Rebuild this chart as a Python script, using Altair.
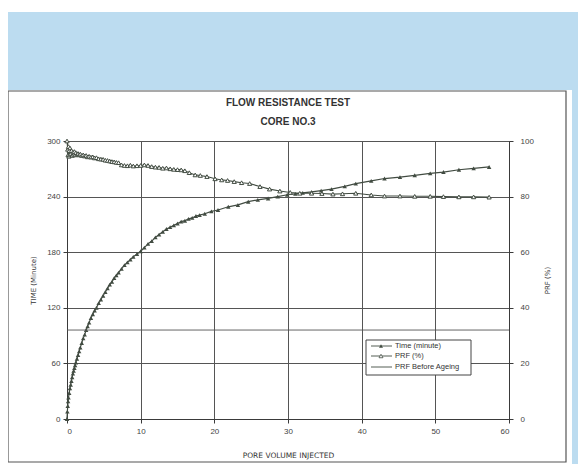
import altair as alt
import pandas as pd

# ---------------- data ----------------
pv_time = [0, 0.05, 0.1, 0.15, 0.2, 0.3, 0.4, 0.5, 0.6, 0.7, 0.8, 0.9, 1.0, 1.1, 1.2,
           1.35, 1.5, 1.65, 1.8, 2.0, 2.2, 2.4, 2.6, 2.8, 3.0, 3.25, 3.5, 3.75, 4.0,
           4.3, 4.6, 4.9, 5.2, 5.5, 5.8, 6.1, 6.4, 6.7, 7.0, 7.4, 7.8, 8.2, 8.6, 9.0,
           9.5, 10.0, 10.5, 11.0, 11.5, 12.0, 12.5, 13.0, 13.5, 14.0, 14.5, 15.0, 15.5,
           16.0, 16.5, 17.0, 17.5, 18.0, 18.7, 19.6, 20.5, 21.9, 23.2, 24.6, 25.9, 27.3,
           28.6, 29.9, 31.0, 32.0, 33.2, 34.5, 35.9, 37.7, 39.2, 41.3, 43.1, 45.2, 47.2,
           49.3, 51.1, 53.2, 55.2, 57.3]
time_min = [0, 8, 14, 19, 23, 28, 33, 37, 41, 45, 49, 52, 55, 58, 61,
            65, 69, 73, 77, 82, 87, 91, 96, 100, 104, 109, 113, 117, 120,
            125, 129, 133, 137, 141, 145, 148, 152, 155, 158, 162, 166, 169, 172, 175,
            178, 181, 185, 189, 192, 196, 199, 202, 205, 207, 209, 211, 213,
            214, 216, 217, 219, 220, 221.5, 224, 225.5, 229, 231, 234.5, 236.5, 238,
            240, 242, 243, 244, 245, 246.5, 248, 251, 254, 257, 259.5, 261, 263,
            265, 266.5, 269, 270.5, 272]

pv_prf = [0, 0.1, 0.15, 0.2, 0.25, 0.3, 0.35, 0.4, 0.5, 0.6, 0.7, 0.8, 0.9, 1.0, 1.1,
          1.2, 1.35, 1.5, 1.65, 1.8, 2.0, 2.2, 2.4, 2.6, 2.8, 3.0, 3.25, 3.5, 3.75, 4.0,
          4.3, 4.6, 4.9, 5.2, 5.5, 5.8, 6.1, 6.4, 6.7, 7.0, 7.4, 7.8, 8.2, 8.6, 9.0, 9.5,
          10.0, 10.5, 11.0, 11.5, 12.0, 12.5, 13.0, 13.5, 14.0, 14.5, 15.0, 15.5, 16.0,
          16.6, 17.4, 18.1, 19.0, 20.1, 21.0, 21.8, 22.7, 23.7, 24.8, 26.2, 27.5, 28.9,
          30.3, 31.6, 33.2, 34.6, 36.1, 37.4, 39.2, 41.3, 43.1, 45.2, 47.2, 49.3, 51.1,
          53.2, 55.2, 57.3]
prf_pct = [100, 97, 95, 98, 94.5, 96.5, 95, 97.5, 95.5, 96.5, 94.8, 96, 95.2, 96.2, 95,
           95.8, 95.2, 95.5, 95, 95.3, 94.8, 95, 94.6, 94.8, 94.3, 94.5, 94.2, 94.3, 93.9, 94,
           93.6, 93.5, 93.4, 93.1, 93, 92.8, 92.6, 92.5, 92.3, 92.2, 91.4, 91.2, 91.1, 91.3, 91, 91.1,
           91.2, 91.4, 91.2, 90.8, 90.6, 90.5, 90.2, 90.3, 90.0, 89.8, 89.7, 89.6, 89.3,
           88.6, 87.8, 87.6, 87.2, 86.4, 86, 85.8, 85.4, 85, 84.7, 83.6, 82.7, 82,
           81.5, 81.2, 81.2, 81.1, 80.9, 81, 81.2, 80.6, 80.2, 80.2, 80.1, 80.1, 80,
           79.9, 79.9, 79.8]

prf_before_ageing = [32]

x_ticks = [0, 10, 20, 30, 40, 50, 60]
left_ticks = [0, 60, 120, 180, 240, 300]
right_ticks = [0, 20, 40, 60, 80, 100]
legend_labels = ["Time (minute)", "PRF (%)", "PRF Before Ageing"]
title_lines = ["FLOW RESISTANCE TEST", "CORE NO.3"]

# ---------------- styling ----------------
W, H = 442, 278
SERIES = "#424c42"
AXIS = "#3a3a3a"
BLUE = "#bcdcf0"
FONT = "Liberation Sans"

time_df = pd.DataFrame({"pv": pv_time, "time": time_min})
prf_df = pd.DataFrame({"pv": pv_prf, "prf": prf_pct})
before_df = pd.DataFrame({"prf": prf_before_ageing})
one = pd.DataFrame({"k": [0]})

x_enc = alt.X(
    "pv:Q",
    scale=alt.Scale(domain=[0, 60], nice=False),
    axis=alt.Axis(values=x_ticks, title="PORE VOLUME INJECTED", grid=True,
                  titlePadding=16, labelPadding=4, tickSize=4, titleFontSize=7.5),
)

# decorations (page background band, frame)
blue_top = alt.Chart(one).mark_rect(fill=BLUE, stroke=None).encode(
    x=alt.value(-59), x2=alt.value(511), y=alt.value(-129), y2=alt.value(-51))
blue_right = alt.Chart(one).mark_rect(fill=BLUE, stroke=None).encode(
    x=alt.value(505), x2=alt.value(511), y=alt.value(-51), y2=alt.value(323))
frame = alt.Chart(one).mark_rect(fillOpacity=0, stroke="#555", strokeWidth=1.2).encode(
    x=alt.value(-59), x2=alt.value(499), y=alt.value(-50), y2=alt.value(321))

# time series (left axis)
time_y = alt.Y(
    "time:Q",
    scale=alt.Scale(domain=[0, 300], nice=False),
    axis=alt.Axis(orient="left", values=left_ticks, title="TIME (Minute)", grid=True,
                  titlePadding=10, labelPadding=3, tickSize=4),
)
time_base = alt.Chart(time_df).encode(x=x_enc, y=time_y)
time_layer = alt.layer(
    time_base.mark_line(color=SERIES, strokeWidth=1.2),
    time_base.mark_point(shape="triangle-up", filled=True, color=SERIES, size=20, opacity=1),
)

# PRF series (right axis)
prf_y = alt.Y(
    "prf:Q",
    scale=alt.Scale(domain=[0, 100], nice=False),
    axis=alt.Axis(orient="right", values=right_ticks, title="PRF (%)", grid=False,
                  titleAngle=270, titlePadding=17, labelPadding=7, tickSize=4),
)
prf_base = alt.Chart(prf_df).encode(x=x_enc, y=prf_y)
prf_layer = alt.layer(
    alt.Chart(before_df).mark_rule(color="#555", strokeWidth=0.9).encode(y=prf_y),
    prf_base.mark_line(color=SERIES, strokeWidth=1.1),
    prf_base.mark_point(shape="triangle-up", filled=True, fill="white", stroke=SERIES,
                        strokeWidth=1, size=18, opacity=1),
)

# legend box (drawn by hand like the original)
leg_box = alt.Chart(one).mark_rect(fill="white", stroke="#444", strokeWidth=1).encode(
    x=alt.value(299), x2=alt.value(404), y=alt.value(199), y2=alt.value(234))
leg_layers = [leg_box]
leg_y = [205, 215, 226]
for i, lab in enumerate(legend_labels):
    leg_layers.append(alt.Chart(one).mark_rule(color=SERIES, strokeWidth=0.9).encode(
        x=alt.value(304), x2=alt.value(325), y=alt.value(leg_y[i])))
    if i == 0:
        leg_layers.append(alt.Chart(one).mark_point(
            shape="triangle-up", filled=True, color=SERIES, size=16, opacity=1).encode(
            x=alt.value(314), y=alt.value(leg_y[i])))
    elif i == 1:
        leg_layers.append(alt.Chart(one).mark_point(
            shape="triangle-up", filled=True, fill="white", stroke=SERIES, strokeWidth=0.8,
            size=16, opacity=1).encode(x=alt.value(314), y=alt.value(leg_y[i])))
    leg_layers.append(alt.Chart(one).mark_text(
        text=lab, align="left", baseline="middle", font=FONT, fontSize=7.5, color="#333").encode(
        x=alt.value(328), y=alt.value(leg_y[i])))

chart = alt.layer(
    blue_top, blue_right, frame, time_layer, prf_layer, *leg_layers
).resolve_scale(y="independent").properties(
    width=W,
    height=H,
    padding={"left": 59, "top": 133, "right": 69, "bottom": 45},
    autosize=alt.AutoSizeParams(type="none"),
    title=alt.TitleParams(text=title_lines, font=FONT, fontSize=10, fontWeight="bold",
                          color="#333", anchor="middle", lineHeight=19, offset=12, dy=127),
    background="white",
).configure_view(
    stroke=AXIS, strokeWidth=1
).configure_axis(
    labelFont=FONT, labelFontSize=8, labelColor="#444",
    titleFont="DejaVu Sans", titleFontSize=7, titleFontWeight="normal", titleColor="#333",
    domainColor=AXIS, tickColor=AXIS, gridColor="#555", gridWidth=1, gridOpacity=1,
)

chart.save("out.html", embed_options={"renderer": "svg", "actions": False})
